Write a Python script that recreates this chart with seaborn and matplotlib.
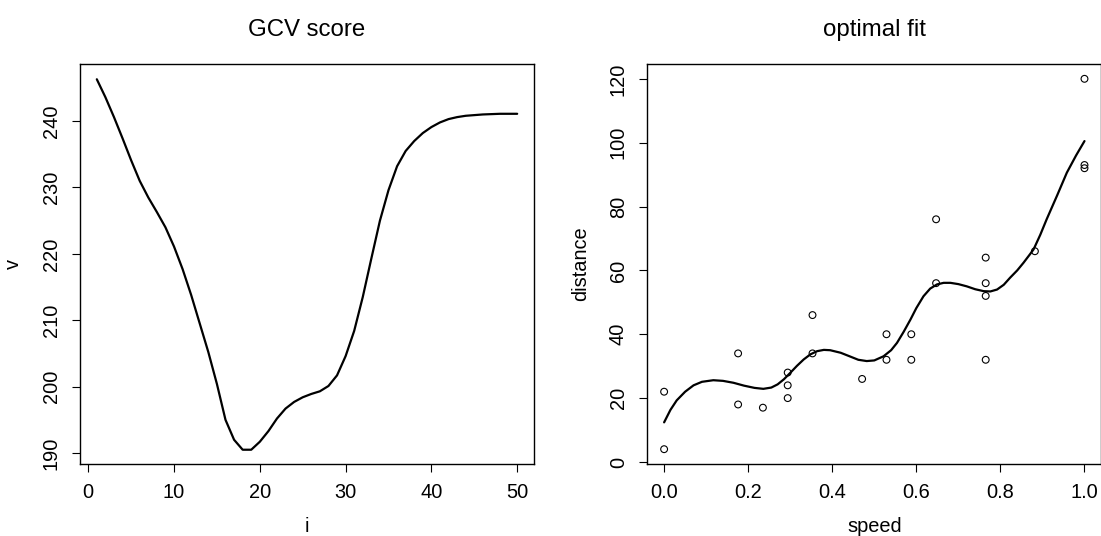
import numpy as np
import pandas as pd
import matplotlib
matplotlib.use("Agg")
import matplotlib.pyplot as plt
import seaborn as sns

# ---- data: GCV score curve ----
gcv_i = list(range(1, 51))
gcv_v = [246.3, 243.6, 240.6, 237.4, 234.1, 231.0, 228.5, 226.3, 224.0, 221.1,
         217.7, 213.8, 209.5, 205.2, 200.4, 195.0, 192.0, 190.5, 190.5, 191.7,
         193.3, 195.2, 196.7, 197.7, 198.4, 198.9, 199.3, 200.1, 201.7, 204.6,
         208.4, 213.5, 219.3, 225.0, 229.6, 233.2, 235.5, 237.0, 238.2, 239.1,
         239.8, 240.3, 240.6, 240.8, 240.9, 241.0, 241.05, 241.1, 241.1, 241.1]

# ---- data: observed points ----
speed = [0, 0, 0.176, 0.176, 0.235, 0.294, 0.294, 0.294, 0.353, 0.353,
         0.471, 0.529, 0.529, 0.588, 0.588, 0.647, 0.647, 0.765, 0.765,
         0.765, 0.765, 0.882, 1.0, 1.0, 1.0]
distance = [4, 22, 18, 34, 17, 20, 24, 28, 34, 46,
            26, 32, 40, 32, 40, 56, 76, 32, 52,
            56, 64, 66, 92, 93, 120]

# ---- data: optimal fit curve ----
fit_x = [0, 0.015, 0.03, 0.05, 0.07, 0.09, 0.117, 0.14, 0.165, 0.19,
         0.215, 0.236, 0.255, 0.27, 0.285, 0.30, 0.316, 0.332, 0.348, 0.364,
         0.38, 0.395, 0.42, 0.443, 0.462, 0.482, 0.50, 0.522, 0.54, 0.554,
         0.57, 0.586, 0.60, 0.617, 0.633, 0.649, 0.665, 0.681, 0.70, 0.72,
         0.74, 0.76, 0.776, 0.792, 0.808, 0.823, 0.84, 0.855, 0.87, 0.879,
         0.895, 0.91, 0.935, 0.958, 0.98, 1.0]
fit_y = [12.4, 16.3, 19.3, 22.0, 24.0, 25.1, 25.6, 25.4, 24.8, 23.9,
         23.2, 22.9, 23.3, 24.3, 25.9, 27.9, 30.1, 32.1, 33.7, 34.7,
         35.1, 35.0, 34.2, 33.0, 32.0, 31.6, 31.8, 33.1, 35.0, 37.3,
         40.8, 44.6, 48.2, 51.9, 54.3, 55.6, 56.1, 56.1, 55.7, 55.0,
         54.1, 53.5, 53.4, 54.0, 55.5, 57.7, 60.0, 62.4, 65.0, 66.6,
         71.2, 76.0, 83.5, 90.6, 96.0, 100.5]

left_xticks = [0, 10, 20, 30, 40, 50]
left_yticks = [190, 200, 210, 220, 230, 240]
right_xticks = [0.0, 0.2, 0.4, 0.6, 0.8, 1.0]
right_xticklabels = ["0.0", "0.2", "0.4", "0.6", "0.8", "1.0"]
right_yticks = [0, 20, 40, 60, 80, 100, 120]

sns.set_theme(style="white")
plt.rcParams['font.family'] = ['Liberation Sans', 'DejaVu Sans']
plt.rcParams['font.size'] = 14.4
plt.rcParams['text.color'] = 'black'
plt.rcParams['axes.labelcolor'] = 'black'
plt.rcParams['xtick.color'] = 'black'
plt.rcParams['ytick.color'] = 'black'

W, H = 1101, 536
fig = plt.figure(figsize=(W / 100, H / 100), dpi=100)
ax1 = fig.add_axes([80 / W, (H - 464) / H, 454 / W, 400 / H])
ax2 = fig.add_axes([647.3 / W, (H - 464) / H, 454 / W, 400 / H])

gcv_df = pd.DataFrame({"i": gcv_i, "v": gcv_v})
sns.lineplot(data=gcv_df, x="i", y="v", ax=ax1, color="black", linewidth=1.6,
             sort=False, estimator=None)

fit_df = pd.DataFrame({"speed": fit_x, "distance": fit_y})
pts_df = pd.DataFrame({"speed": speed, "distance": distance})
sns.scatterplot(data=pts_df, x="speed", y="distance", ax=ax2, marker="o",
                s=24, facecolors="none", edgecolor="black", linewidth=0.8)
sns.lineplot(data=fit_df, x="speed", y="distance", ax=ax2, color="black",
             linewidth=1.6, sort=False, estimator=None)

ax1.set_xlim(-0.96, 51.96)
ax1.set_ylim(188.35, 248.6)
ax1.set_xticks(left_xticks)
ax1.set_yticks(left_yticks)
ax2.set_xlim(-0.04, 1.04)
ax2.set_ylim(-0.64, 124.64)
ax2.set_xticks(right_xticks)
ax2.set_xticklabels(right_xticklabels)
ax2.set_yticks(right_yticks)

for ax, title, xl, yl in [(ax1, "GCV score", "i", "v"),
                          (ax2, "optimal fit", "speed", "distance")]:
    ax.set_title(title, fontsize=17.3, pad=20, color="black")
    ax.set_xlabel(xl, fontsize=14.4, color="black")
    ax.set_ylabel(yl, fontsize=14.4, color="black")
    ax.xaxis.set_label_coords(0.5, -0.133)
    ax.yaxis.set_label_coords(-0.126, 0.5)
    ax.tick_params(axis="both", direction="out", length=6, width=0.8,
                   colors="black", labelsize=14.4, pad=8,
                   bottom=True, left=True)
    ax.tick_params(axis="y", labelrotation=90)
    for lab in ax.get_yticklabels():
        lab.set_va("center")
    for sp in ax.spines.values():
        sp.set_visible(True)
        sp.set_color("black")
        sp.set_linewidth(1.0)
    ax.grid(False)
    if ax.get_legend() is not None:
        ax.get_legend().remove()

fig.savefig("out.png", dpi=100, facecolor="white")
